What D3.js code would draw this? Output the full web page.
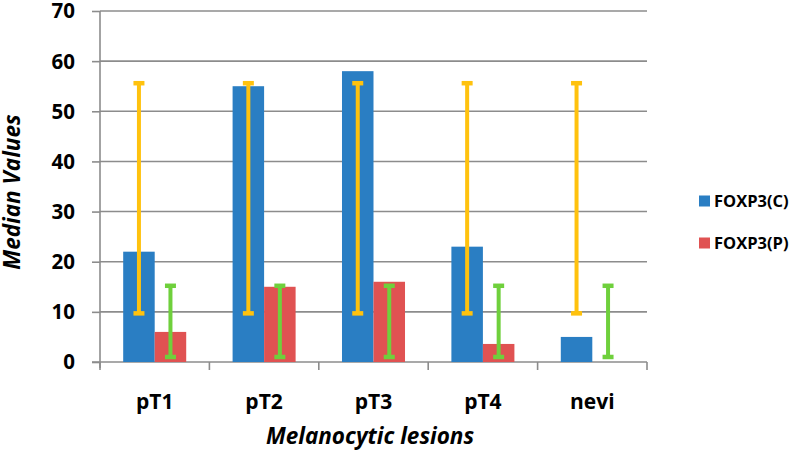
<!DOCTYPE html>
<html><head><meta charset="utf-8">
<script src="https://cdn.jsdelivr.net/npm/d3@7"></script>
<style>body{margin:0;background:#fff;}svg{display:block;}</style>
</head><body>
<svg id="chart" width="791" height="450"></svg>
<script>
const categories = ["pT1","pT2","pT3","pT4","nevi"];
const seriesNames = ["FOXP3(C)","FOXP3(P)"];
const foxp3C = [22, 55, 58, 23, 5];
const foxp3P = [6, 15, 16, 3.6, 0];
const errC = [[9.7,55.6],[9.7,55.6],[9.7,55.6],[9.7,55.6],[9.7,55.6]];
const errP = [[1,15.2],[1,15.2],[1,15.2],[1,15.2],[1,15.2]];
const yTicks = [0,10,20,30,40,50,60,70];

const colors = {C:"#2A7EC3", P:"#E05252", errC:"#FFC20E", errP:"#6FD03C", grid:"#8C8C8C"};
const font = "'Open Sans', 'Liberation Sans', sans-serif";

const svg = d3.select("#chart");
const L = 100, R = 647, T = 11, B = 362;

const y = d3.scaleLinear().domain([0,70]).range([B,T]);
const x = d3.scaleBand().domain(categories).range([L,R]).paddingInner(0.424).paddingOuter(0.212);
const xs = d3.scaleBand().domain(seriesNames).range([0, x.bandwidth()]);

// gridlines
svg.append("g").selectAll("line").data(yTicks.filter(d=>d>0)).join("line")
  .attr("x1", L).attr("x2", R).attr("y1", d=>y(d)).attr("y2", d=>y(d))
  .attr("stroke", colors.grid).attr("stroke-width", 1.6);

// y axis
const yAxis = svg.append("g").attr("transform", `translate(${L},0)`)
  .call(d3.axisLeft(y).tickValues(yTicks).tickSize(8).tickPadding(17));
yAxis.select(".domain").remove();
yAxis.selectAll(".tick line").attr("stroke", colors.grid).attr("stroke-width", 1.6);
yAxis.selectAll(".tick text").attr("font-family", font).attr("font-weight", "bold")
  .attr("font-size", 20.5).attr("fill", "#000").attr("dy", "0.34em");
svg.append("line").attr("x1", L).attr("x2", L).attr("y1", T).attr("y2", B+6)
  .attr("stroke", colors.grid).attr("stroke-width", 1.6);

// x axis
svg.append("line").attr("x1", L-8).attr("x2", R).attr("y1", B).attr("y2", B)
  .attr("stroke", colors.grid).attr("stroke-width", 1.6);
const bounds = categories.map((c,i)=> x(c) - x.step()*x.paddingOuter()).concat([R]);
svg.append("g").selectAll("line").data(bounds).join("line")
  .attr("x1", d=>d).attr("x2", d=>d).attr("y1", B).attr("y2", B+8)
  .attr("stroke", colors.grid).attr("stroke-width", 1.6);
svg.append("g").selectAll("text").data(categories).join("text")
  .attr("x", d=>x(d)+x.bandwidth()/2).attr("y", 409)
  .attr("text-anchor","middle").attr("font-family", font).attr("font-weight","bold")
  .attr("font-size", 21).attr("fill","#000").text(d=>d);

// bars
const data = categories.map((c,i)=>({c, C:foxp3C[i], P:foxp3P[i], eC:errC[i], eP:errP[i]}));
const g = svg.append("g");
g.selectAll("rect.c").data(data).join("rect").attr("class","c")
  .attr("x", d=>x(d.c)+xs("FOXP3(C)")).attr("width", xs.bandwidth())
  .attr("y", d=>y(d.C)).attr("height", d=>y(0)-y(d.C)).attr("fill", colors.C);
g.selectAll("rect.p").data(data).join("rect").attr("class","p")
  .attr("x", d=>x(d.c)+xs("FOXP3(P)")).attr("width", xs.bandwidth())
  .attr("y", d=>y(d.P)).attr("height", d=>y(0)-y(d.P)).attr("fill", colors.P);

// error bars
function errBars(key, series, color){
  const eg = svg.append("g");
  const cx = d => x(d.c)+xs(series)+xs.bandwidth()/2;
  eg.selectAll("line.v").data(data).join("line")
    .attr("x1", cx).attr("x2", cx).attr("y1", d=>y(d[key][0])).attr("y2", d=>y(d[key][1]))
    .attr("stroke", color).attr("stroke-width", 4);
  ["0","1"].forEach(k=>{
    eg.selectAll("line.cap"+k).data(data).join("line")
      .attr("x1", d=>cx(d)-5.5).attr("x2", d=>cx(d)+5.5)
      .attr("y1", d=>y(d[key][+k])).attr("y2", d=>y(d[key][+k]))
      .attr("stroke", color).attr("stroke-width", 4.5);
  });
}
errBars("eC","FOXP3(C)", colors.errC);
errBars("eP","FOXP3(P)", colors.errP);

// legend
const legendY = [201, 243];
const lg = svg.append("g");
seriesNames.forEach((s,i)=>{
  lg.append("rect").attr("x", 699).attr("y", legendY[i]-5.5).attr("width", 11).attr("height", 11)
    .attr("fill", i===0?colors.C:colors.P);
  lg.append("text").attr("x", 714).attr("y", legendY[i]+6).attr("font-family", font)
    .attr("font-weight","bold").attr("font-size", 16.5).attr("fill","#000").text(s);
});

// axis titles
svg.append("text").attr("transform", "translate(20,192) rotate(-90)")
  .attr("text-anchor","middle").attr("font-family", font).attr("font-weight","bold")
  .attr("font-style","italic").attr("font-size", 22.5).attr("fill","#000").text("Median Values");
svg.append("text").attr("x", 370).attr("y", 444)
  .attr("text-anchor","middle").attr("font-family", font).attr("font-weight","bold")
  .attr("font-style","italic").attr("font-size", 22.5).attr("fill","#000").text("Melanocytic lesions");
</script>
</body></html>
